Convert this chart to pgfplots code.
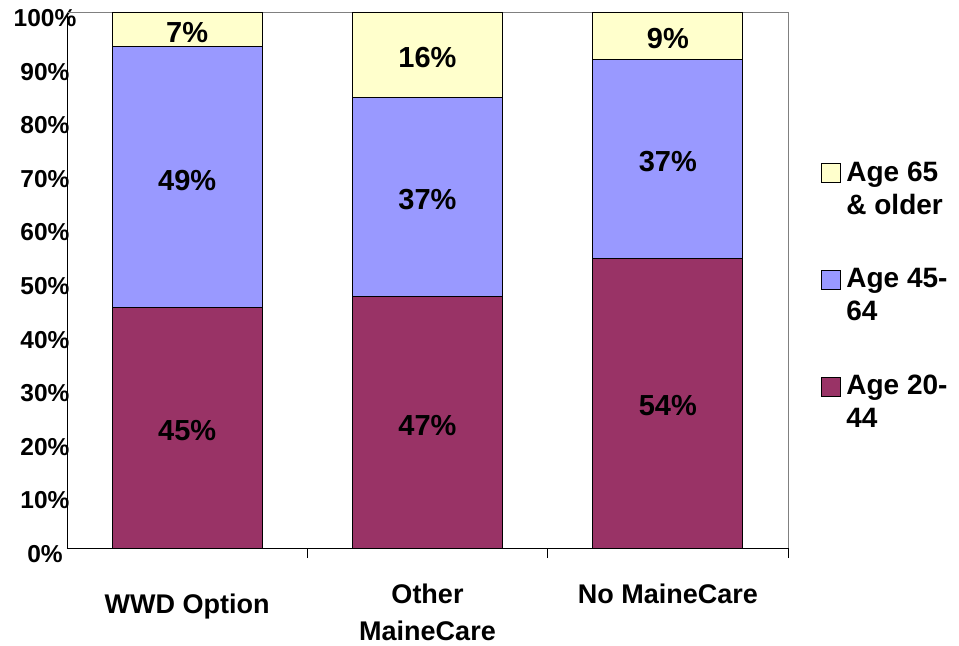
\documentclass[border=0pt]{standalone}
\usepackage{pgfplots}
\pgfplotsset{compat=1.18}
\usepackage{fontspec}
\setmainfont{Liberation Sans}
\definecolor{c2044}{HTML}{993366}
\definecolor{c4564}{HTML}{9999FF}
\definecolor{c65}{HTML}{FFFFCC}
\begin{document}
\begin{tikzpicture}
\begin{axis}[
    name=ax,
    scale only axis,
    width=721pt, height=536pt,
    ybar stacked,
    bar width=150pt,
    xmin=-0.5, xmax=2.5,
    ymin=0, ymax=100,
    axis x line*=bottom, axis y line*=left,
    axis line style={black, line width=0.9pt},
    xtick={0,1,2},
    xticklabels={{\raisebox{-10pt}[\height]{WWD Option}},{Other\\MaineCare},{No MaineCare}},
    xticklabel style={align=center, font=\bfseries\fontsize{27}{37}\selectfont, yshift=-32pt},
    extra x ticks={0.5,1.5,2.5},
    extra x tick labels={},
    extra x tick style={tick align=outside, major tick length=10pt, tick style={black, line width=0.9pt}},
    major tick length=0pt,
    ytick={0,10,...,100},
    yticklabels={0\%,10\%,20\%,30\%,40\%,50\%,60\%,70\%,80\%,90\%,100\%},
    yticklabel style={font=\bfseries\fontsize{24.5}{26}\selectfont, anchor=center, xshift=-22pt, yshift=-6pt},
    nodes near coords,
    point meta=explicit symbolic,
    every node near coord/.append style={font=\bfseries\fontsize{29}{30}\selectfont, black, anchor=center, yshift=-3pt},
    nodes near coords vertically adjusted/.style={},
    reverse legend,
    legend style={at={(1.042,0.729)}, anchor=north west, draw=none,
        font=\bfseries\fontsize{28}{33}\selectfont,
        cells={anchor=west, align=left}, row sep=49pt},
    legend image code/.code={\draw[#1, draw=black, line width=0.9pt] (0pt,6pt) rectangle (19pt,25pt); \path (22pt,6pt);},
    clip=false,
]
\addplot[fill=c2044, draw=black, line width=0.9pt] coordinates {(0,44.8)[45\%] (1,47.0)[47\%] (2,54.1)[54\%]};
\addplot[fill=c4564, draw=black, line width=0.9pt] coordinates {(0,48.7)[49\%] (1,37.1)[37\%] (2,37.1)[37\%]};
\addplot[fill=c65, draw=black, line width=0.9pt] coordinates {(0,6.5)[7\%] (1,15.9)[16\%] (2,8.8)[9\%]};
\legend{Age 20-\\44, Age 45-\\64, Age 65\\\& older}
\draw[gray, line width=0.9pt] (rel axis cs:0,1) -- (rel axis cs:1,1) -- (rel axis cs:1,0);
\end{axis}
\pgfresetboundingbox
\path ([xshift=-67pt,yshift=-97pt]ax.south west) rectangle ([xshift=171pt,yshift=12pt]ax.north east);
\end{tikzpicture}
\end{document}
